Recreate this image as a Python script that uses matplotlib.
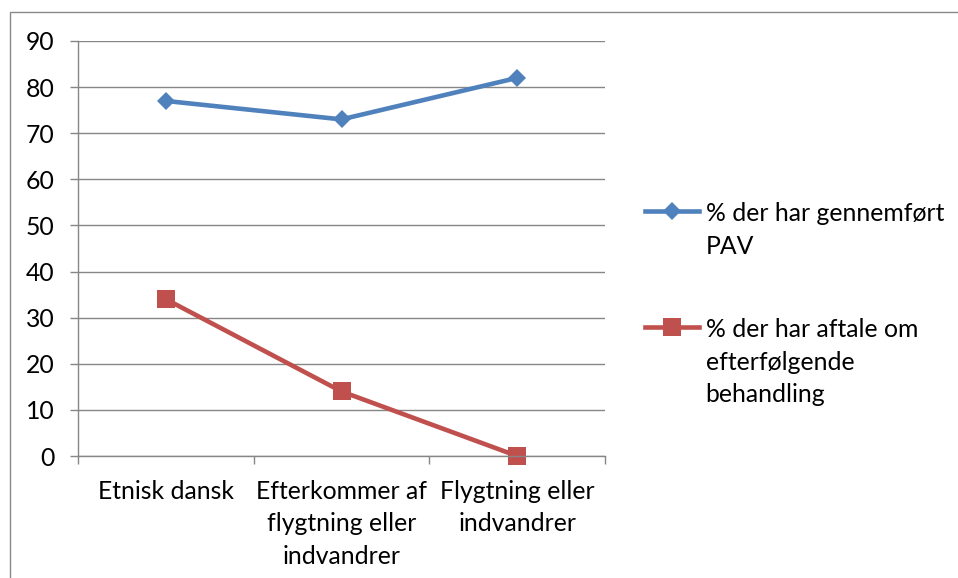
import matplotlib.pyplot as plt
from matplotlib.patches import Rectangle

plt.rcParams['font.family'] = ['Lato', 'DejaVu Sans']

# ---- data ----
categories = ['Etnisk dansk', 'Efterkommer af\nflygtning eller\nindvandrer', 'Flygtning eller\nindvandrer']
pav = [77, 73, 82]
aftale = [34, 14, 0]
labels = ['% der har gennemført\nPAV', '% der har aftale om\nefterfølgende\nbehandling']

blue = '#4F81BD'
red = '#C0504D'
grid_col = '#868686'
fs = 17.8

fig = plt.figure(figsize=(9.58, 5.78), dpi=100)
ax = fig.add_axes([78/958, 1 - 456/578, (605-78)/958, (456-41)/578])

x = [i + 0.5 for i in range(len(categories))]
ax.plot(x, pav, color=blue, lw=3.3, marker='D', ms=9, mew=0, label=labels[0])
ax.plot(x, aftale, color=red, lw=3.3, marker='s', ms=13.5, mew=0, label=labels[1], clip_on=False)

ax.set_xlim(0, 3)
ax.set_ylim(0, 90)
ax.set_yticks(range(0, 91, 10))
ax.yaxis.grid(True, color=grid_col, lw=1)
ax.set_axisbelow(True)

ax.set_xticks(x, categories, fontsize=fs, linespacing=1.5)
ax.set_xticks([0, 1, 2, 3], minor=True)
ax.tick_params(axis='x', which='major', length=0, pad=17)
ax.tick_params(axis='x', which='minor', length=6, color=grid_col, width=1, direction='out')
ax.tick_params(axis='y', length=6, color=grid_col, width=1, pad=11, labelsize=fs)

for s in ['top', 'right']:
    ax.spines[s].set_visible(False)
for s in ['left', 'bottom']:
    ax.spines[s].set_color(grid_col)
    ax.spines[s].set_linewidth(1)

leg = fig.legend(loc='upper left', bbox_to_anchor=(645/958, 1 - 202/578), frameon=False,
                 fontsize=fs, numpoints=1, handlelength=2.2, handletextpad=0.25,
                 borderpad=0, borderaxespad=0, labelspacing=2.45)
for t in leg.get_texts():
    t.set_linespacing(1.5)
for col in leg._legend_handle_box.get_children():
    for row in col.get_children():
        row.align = 'top'

fig.patches.append(Rectangle((10/958, -0.5), 2, 1.5 - 12/578, transform=fig.transFigure,
                             fill=False, edgecolor='#898989', lw=1))

fig.savefig('out.png', dpi=100)
